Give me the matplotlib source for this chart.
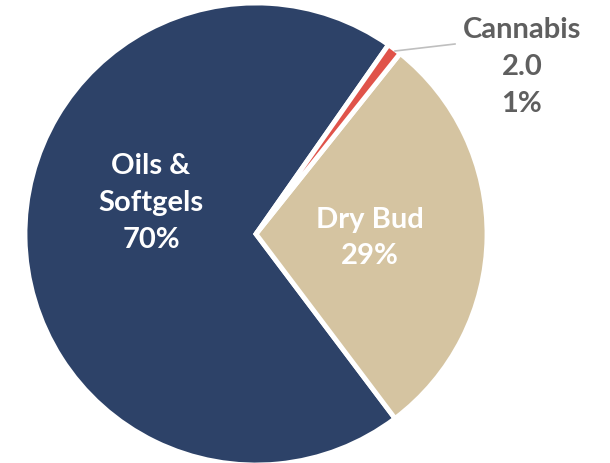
import matplotlib
matplotlib.use("Agg")
import matplotlib.pyplot as plt

labels = ["Oils &\nSoftgels", "Dry Bud", "Cannabis\n2.0"]
values = [70, 29, 1]
colors = ["#2D4268", "#D5C4A1", "#E0534A"]

fig = plt.figure(figsize=(6.10, 4.63), dpi=100)
ax = fig.add_axes([0, 0, 1, 1])

cx, cy, r = 256, 463 - 234, 231
wedges, _ = ax.pie(values, colors=colors, startangle=55, counterclock=True,
                   center=(cx, cy), radius=r, frame=True,
                   wedgeprops=dict(edgecolor="white", linewidth=3.5))
ax.set_xlim(0, 610)
ax.set_ylim(0, 463)
ax.set_aspect("equal")
ax.axis("off")

font = dict(family="Lato", weight="bold", fontsize=21)
ax.text(151, 463 - 203, f"{labels[0]}\n{values[0]}%", color="white", ha="center", va="center",
        linespacing=1.5, **font)
ax.text(370, 463 - 238, f"{labels[1]}\n{values[1]}%", color="white", ha="center", va="center",
        linespacing=1.5, **font)
ax.text(522, 463 - 67, f"{labels[2]}\n{values[2]}%", color="#5F5F5F", ha="center", va="center",
        linespacing=1.5, **font)
ax.plot([395, 455], [463 - 51, 463 - 44], color="#BFBFBF", lw=1.2)

fig.savefig("out.png", dpi=100)
